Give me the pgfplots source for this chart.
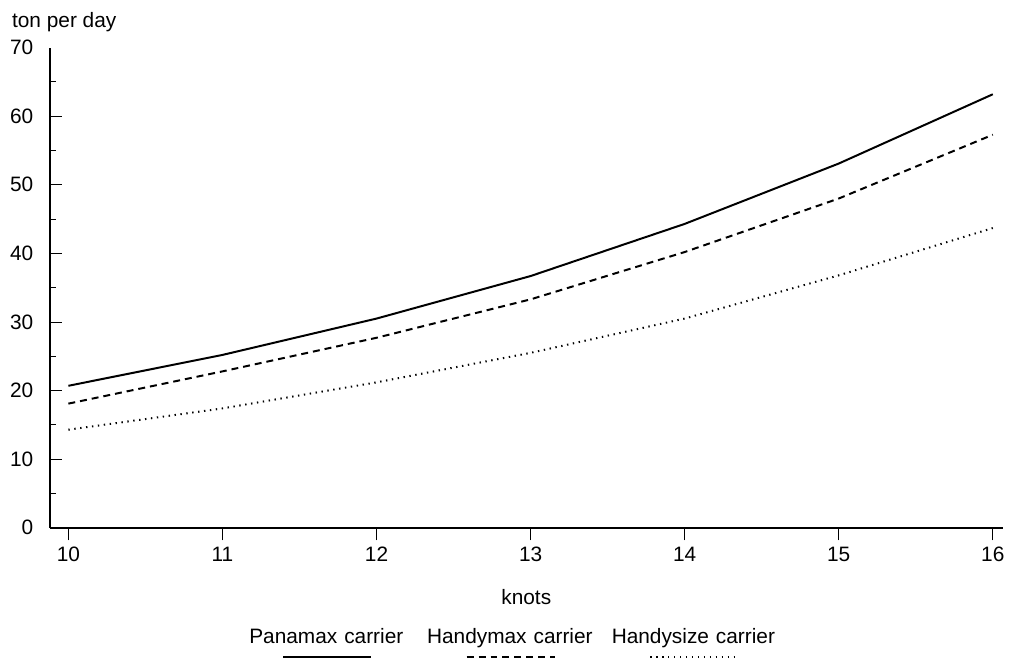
\documentclass[border=0pt]{standalone}
\usepackage{fontspec}
\setmainfont{Liberation Sans}
\usepackage{pgfplots}
\pgfplotsset{compat=1.18}
\begin{document}
\begin{tikzpicture}[font=\fontsize{10.5}{12.6}\selectfont]
\begin{axis}[
  scale only axis,
  width=480.5pt, height=242pt,
  xmin=9.878, xmax=16.066,
  ymin=0, ymax=70,
  axis x line*=bottom, axis y line*=left,
  axis line style={-, line width=1pt},
  xtick={10,11,12,13,14,15,16},
  ytick={0,10,20,30,40,50,60},
  minor y tick num=1,
  extra y ticks={65},
  extra y tick labels={},
  extra y tick style={major tick length=3.3pt},
  tick align=inside,
  major tick length=6.4pt,
  minor tick length=3.3pt,
  every tick/.style={black, line width=0.5pt},
  x tick style={yshift=-6.4pt},
  /pgf/number format/assume math mode=true,
  yticklabel style={xshift=-4.7pt},
  xticklabel style={yshift=-6.2pt},
  xlabel={knots},
  xlabel style={at={(axis description cs:0.5,0)}, anchor=center, yshift=-35pt},
  clip=false,
  legend columns=3,
  legend cell align=left,
  legend image code/.code={\draw[#1,overlay] (24.5pt,-10pt) -- (69pt,-10pt); \path[draw=none,fill=none] (0,0) -- (0,-11pt);},
  legend style={draw=none, fill=none, inner sep=0pt, column sep=0pt,
    at={(axis description cs:0.1936,0)}, anchor=north west, yshift=-50.5pt,
    nodes={inner sep=0pt, text width=92.5pt, align=center}},
]
\addplot[black, line width=1pt]
  coordinates {(10,20.7) (11,25.2) (12,30.5) (13,36.7) (14,44.3) (15,53.1) (16,63.2)};
\addlegendentry{Panamax carrier}
\addplot[black, line width=1pt, dash pattern=on 3.5pt off 2.5pt]
  coordinates {(10,18.1) (11,22.8) (12,27.7) (13,33.3) (14,40.2) (15,48.0) (16,57.3)};
\addlegendentry{Handymax carrier}
\addplot[black, line width=1pt, dash pattern=on 0.7pt off 2.3pt]
  coordinates {(10,14.3) (11,17.4) (12,21.2) (13,25.5) (14,30.5) (15,36.8) (16,43.7)};
\addlegendentry{Handysize carrier}
\node[anchor=east, xshift=-4.7pt] at (rel axis cs:0,1) {70};
\node[anchor=west, inner sep=0pt] at (rel axis cs:-0.0397,1.0537) {ton per day};
\path (rel axis cs:-0.0520,1.0992) (rel axis cs:1.0,-0.2583);
\end{axis}
\end{tikzpicture}
\end{document}
